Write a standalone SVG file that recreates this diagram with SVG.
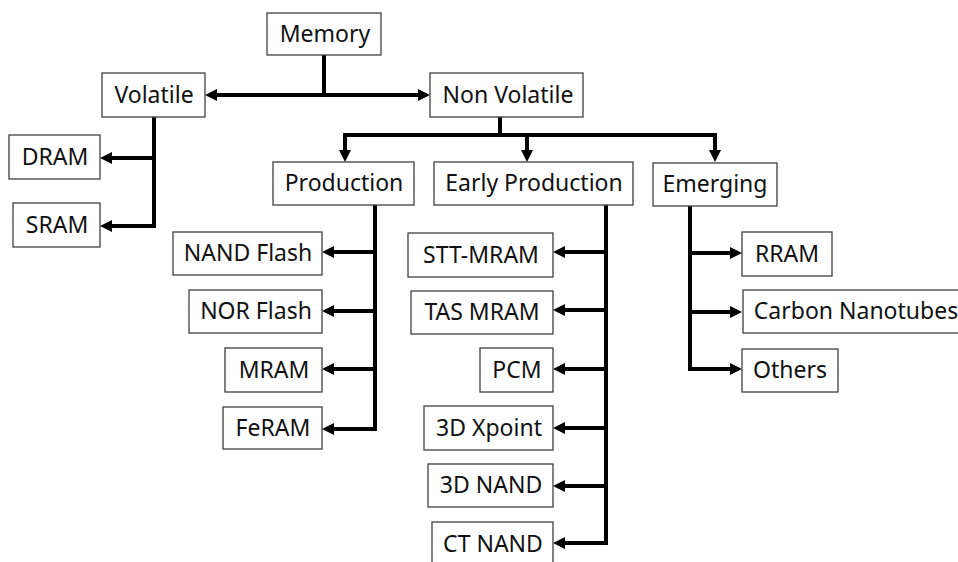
<svg xmlns="http://www.w3.org/2000/svg" width="958" height="562" viewBox="0 0 958 562">
<style>
.box rect{fill:#ffffff;stroke:#404040;stroke-width:1.3}
.box text{font-family:"Noto Sans","Open Sans",sans-serif;font-size:23px;fill:#111111;text-anchor:middle}
.conn path{fill:none;stroke:#000000;stroke-width:4;stroke-linejoin:miter}
.arr{marker-end:url(#ah)}
.arr2{marker-start:url(#ah);marker-end:url(#ah)}
</style>
<defs>
<marker id="ah" viewBox="0 0 12 12" refX="2" refY="6" markerWidth="12" markerHeight="12" markerUnits="userSpaceOnUse" orient="auto-start-reverse">
<path d="M0,0 L12,6 L0,12 z" fill="#000000"/>
</marker>
</defs>
<rect width="958" height="562" fill="#ffffff"/>
<g id="connectors" class="conn">
<path d="M324,55 V95"/>
<path class="arr2" d="M215,95 H420"/>
<path class="arr" d="M154,117 V226 H110"/>
<path class="arr" d="M154,158 H110"/>
<path d="M500,117 V135"/>
<path class="arr2" d="M345,152 V135 H715 V152"/>
<path class="arr" d="M527,135 V152"/>
<path class="arr" d="M375,205 V429 H332"/>
<path class="arr" d="M375,252 H332"/>
<path class="arr" d="M375,311 H332"/>
<path class="arr" d="M375,369 H332"/>
<path class="arr" d="M606,205 V543 H563"/>
<path class="arr" d="M606,252 H563"/>
<path class="arr" d="M606,310 H563"/>
<path class="arr" d="M606,369 H563"/>
<path class="arr" d="M606,428 H563"/>
<path class="arr" d="M606,486 H563"/>
<path class="arr" d="M690,206 V369 H732"/>
<path class="arr" d="M690,253 H732"/>
<path class="arr" d="M690,312 H732"/>
</g>
<g id="memory" class="box"><rect x="267" y="13" width="114" height="42"/><text x="325" y="42">Memory</text></g>
<g id="volatile" class="box"><rect x="102" y="73" width="103" height="44"/><text x="154" y="103">Volatile</text></g>
<g id="nonvolatile" class="box"><rect x="430" y="73" width="153" height="44"/><text x="508" y="103">Non Volatile</text></g>
<g id="dram" class="box"><rect x="9" y="135" width="91" height="44"/><text x="55" y="165">DRAM</text></g>
<g id="sram" class="box"><rect x="13" y="203" width="87" height="44"/><text x="57" y="233">SRAM</text></g>
<g id="production" class="box"><rect x="273" y="162" width="141" height="43"/><text x="344" y="191">Production</text></g>
<g id="earlyproduction" class="box"><rect x="434" y="162" width="199" height="43"/><text x="534" y="191">Early Production</text></g>
<g id="emerging" class="box"><rect x="653" y="163" width="124" height="43"/><text x="715" y="192">Emerging</text></g>
<g id="nandflash" class="box"><rect x="173" y="232" width="149" height="43"/><text x="248" y="261">NAND Flash</text></g>
<g id="norflash" class="box"><rect x="189" y="290" width="133" height="43"/><text x="256" y="319">NOR Flash</text></g>
<g id="mram" class="box"><rect x="225" y="348" width="97" height="44"/><text x="274" y="378">MRAM</text></g>
<g id="feram" class="box"><rect x="223" y="407" width="99" height="42"/><text x="273" y="436">FeRAM</text></g>
<g id="sttmram" class="box"><rect x="408" y="233" width="145" height="44"/><text x="481" y="263">STT-MRAM</text></g>
<g id="tasmram" class="box"><rect x="411" y="291" width="142" height="43"/><text x="482" y="320">TAS MRAM</text></g>
<g id="pcm" class="box"><rect x="480" y="348" width="73" height="44"/><text x="517" y="378">PCM</text></g>
<g id="xpoint3d" class="box"><rect x="424" y="406" width="129" height="44"/><text x="489" y="436">3D Xpoint</text></g>
<g id="nand3d" class="box"><rect x="428" y="464" width="125" height="43"/><text x="491" y="493">3D NAND</text></g>
<g id="ctnand" class="box"><rect x="432" y="522" width="121" height="44"/><text x="493" y="552">CT NAND</text></g>
<g id="rram" class="box"><rect x="742" y="232" width="90" height="44"/><text x="787" y="262">RRAM</text></g>
<g id="carbonnanotubes" class="box"><rect x="743" y="290" width="219" height="43"/><text x="856" y="319">Carbon Nanotubes</text></g>
<g id="others" class="box"><rect x="742" y="349" width="96" height="43"/><text x="790" y="378">Others</text></g>
</svg>
